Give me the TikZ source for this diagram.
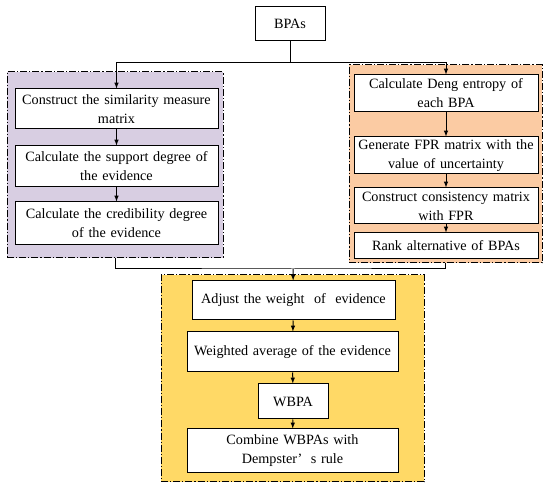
\documentclass[tikz,border=0pt]{standalone}
\usepackage{fontspec}
\setmainfont{Liberation Serif}
\usepackage{xcolor}
\usetikzlibrary{arrows,shapes,positioning}

\definecolor{grpPurple}{RGB}{216,206,226}
\definecolor{grpOrange}{RGB}{251,203,163}
\definecolor{grpYellow}{RGB}{255,217,102}

\tikzset{
  stepbox/.style={draw, fill=white, align=center, line width=1pt, inner sep=1pt,
    font=\fontsize{14.2}{19}\selectfont},
  groupbox/.style={draw, line width=1pt, dash pattern=on 7pt off 2pt on 1.2pt off 2pt, inner sep=0pt},
  flow/.style={->, >=latex, line width=1pt}
}

\begin{document}
\begin{tikzpicture}[x=1pt, y=-1pt]
                    \useasboundingbox (0,0) rectangle (550,492);
                    % group frames
                    \node[groupbox, fill=grpPurple, minimum width=216pt, minimum height=186pt] (pgroup) at (115,165) {};
                    \node[groupbox, fill=grpOrange, minimum width=193pt, minimum height=198pt] (ogroup) at (445.5,164) {};
                    \node[groupbox, fill=grpYellow, minimum width=263pt, minimum height=207pt] (ygroup) at (292.5,378.5) {};

                    \node[stepbox, minimum width=70pt, minimum height=34pt] (bpas) at (290,24) {BPAs};

                    % left branch
                    \node[stepbox, text width=201pt, minimum height=40pt] (sim) at (116.5,109) {Construct the similarity measure\\matrix};
                    \node[stepbox, text width=201pt, minimum height=41pt] (sup) at (116.5,166.5) {Calculate the support degree of\\the evidence};
                    \node[stepbox, text width=201pt, minimum height=43pt] (cred) at (116.5,223.5) {Calculate the credibility degree\\of the evidence};

                    % right branch
                    \node[stepbox, text width=182pt, minimum height=37pt] (deng) at (446,93.5) {Calculate Deng entropy of\\each BPA};
                    \node[stepbox, text width=182pt, minimum height=37pt] (fpr) at (446,155.5) {Generate FPR matrix with the\\value of uncertainty};
                    \node[stepbox, text width=182pt, minimum height=36pt] (cons) at (446,206) {Construct consistency matrix\\with FPR};
                    \node[stepbox, text width=182pt, minimum height=26pt] (rank) at (446,246) {Rank alternative of BPAs};

                    % bottom
                    \node[stepbox, text width=201pt, minimum height=39pt] (adj) at (293.5,300.5) {Adjust the weight\ \ of\ \ evidence};
                    \node[stepbox, text width=209pt, minimum height=40pt] (wavg) at (292.5,352) {Weighted average of the evidence};
                    \node[stepbox, minimum width=70pt, minimum height=35pt] (wbpa) at (293,401.5) {WBPA};
                    \node[stepbox, text width=209pt, minimum height=44pt] (comb) at (292.5,451) {Combine WBPAs with\\Dempster’\hspace{0.6em}s rule};

                    \coordinate (split) at (290,63);
                    \coordinate (join) at (293,269);

                    \draw[line width=1pt] (bpas) -- (split);
                    \draw[flow] (split) -| (sim);
                    \draw[flow] (split) -| (deng);
                    \draw[flow] (sim) -- (sup);
                    \draw[flow] (sup) -- (cred);
                    \draw[flow] (deng) -- (fpr);
                    \draw[flow] (fpr) -- (cons);
                    \draw[flow] (cons) -- (rank);

                    \draw[line width=1pt] (pgroup.south) |- (join) -| (ogroup.south);
                    \draw[flow] (join) -- (adj);
                    \draw[flow] (adj) -- (wavg);
                    \draw[flow] (wavg) -- (wbpa);
                    \draw[flow] (wbpa) -- (comb);
                \end{tikzpicture}
\end{document}
